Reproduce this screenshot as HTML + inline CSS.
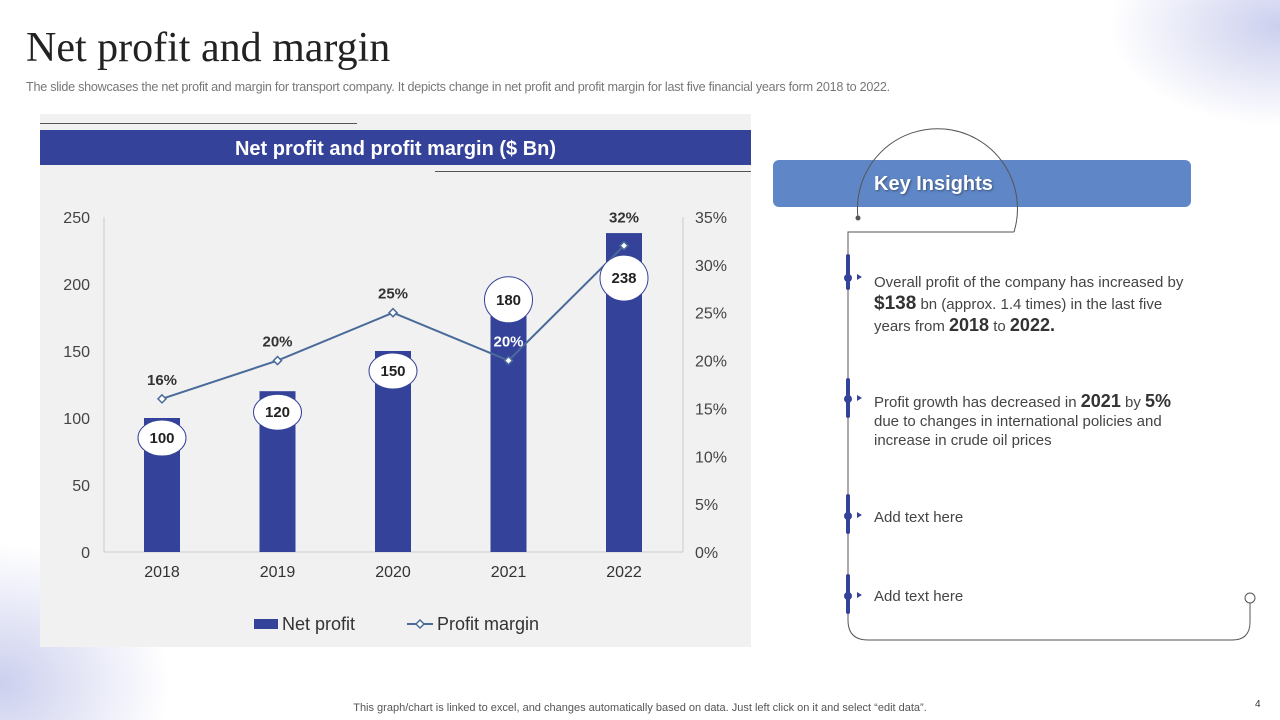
<!DOCTYPE html>
<html><head><meta charset="utf-8">
<style>
html,body{margin:0;width:1280px;height:720px;overflow:hidden}
body{background:#fff;font-family:"Liberation Sans",sans-serif;position:relative}
.abs{position:absolute}
#wrap{position:absolute;left:0;top:0;width:1280px;height:720px;overflow:hidden}
</style></head><body><div id="wrap">
<div class="abs" style="left:1090px;top:0;width:190px;height:130px;background:radial-gradient(ellipse 170px 100px at 100% 20%,rgba(120,130,210,0.38),rgba(255,255,255,0) 100%)"></div>
<div class="abs" style="left:0;top:540px;width:190px;height:180px;background:radial-gradient(ellipse 170px 140px at 0% 80%,rgba(120,130,210,0.38),rgba(255,255,255,0) 100%)"></div>
<div class="abs" style="left:26px;top:24px;font-family:'Liberation Serif',serif;font-size:42px;color:#222">Net profit and margin</div>
<div class="abs" style="left:26px;top:80px;font-size:12.6px;color:#777;letter-spacing:-0.25px;white-space:nowrap">The slide showcases the net profit and margin for transport company. It depicts change in net profit and profit margin for last five financial years form 2018 to 2022.</div>

<div class="abs" style="left:40px;top:114px;width:711px;height:533px;background:#f1f1f1"></div>
<div class="abs" style="left:40px;top:130px;width:711px;height:35px;background:#34429a;color:#fff;font-weight:bold;font-size:20px;text-align:center;line-height:38px">Net profit and profit margin ($ Bn)</div>
<div class="abs" style="left:40px;top:123px;width:317px;height:1px;background:#555"></div>
<div class="abs" style="left:435px;top:171px;width:316px;height:1px;background:#555"></div>

<svg class="abs" style="left:0;top:0" width="1280" height="720" id="chart"></svg>

<div class="abs" style="left:773px;top:160px;width:418px;height:47px;background:#5f86c6;border-radius:6px"></div>
<div class="abs" style="left:874px;top:173px;color:#fff;font-weight:bold;font-size:20px;text-shadow:1px 1px 2px rgba(0,0,0,0.4)">Key Insights</div>
<svg class="abs" style="left:0;top:0" width="1280" height="720">
<path d="M858 218 A80 80 0 1 1 1014 232" fill="none" stroke="#555" stroke-width="1"/>
<circle cx="858" cy="218" r="2.5" fill="#555"/>
<path d="M1014 232 L848 232 L848 620 Q848 640 868 640 L1232 640 Q1250 640 1250 622 L1250 603" fill="none" stroke="#555" stroke-width="1"/>
<circle cx="1250" cy="598" r="5" fill="#fff" stroke="#555"/>
<g fill="#34429a">
<rect x="846" y="254" width="4" height="36" rx="2"/><circle cx="848" cy="278" r="4"/><path d="M857 274 l5 3 l-5 3z"/>
<rect x="846" y="378" width="4" height="40" rx="2"/><circle cx="848" cy="399" r="4"/><path d="M857 395 l5 3 l-5 3z"/>
<rect x="846" y="494" width="4" height="40" rx="2"/><circle cx="848" cy="516" r="4"/><path d="M857 512 l5 3 l-5 3z"/>
<rect x="846" y="574" width="4" height="40" rx="2"/><circle cx="848" cy="596" r="4"/><path d="M857 592 l5 3 l-5 3z"/>
</g></svg>
<div class="abs" style="left:874px;top:272px;width:320px;font-size:15px;color:#444;line-height:21px">Overall profit of the company has increased by <b style="font-size:19px;color:#333">$138</b> bn (approx. 1.4 times) in the last five years from <b style="font-size:18px;color:#333">2018</b> to <b style="font-size:18px;color:#333">2022.</b></div>
<div class="abs" style="left:874px;top:392px;width:318px;font-size:15px;color:#444;line-height:19px">Profit growth has decreased in <b style="font-size:18px;color:#333">2021</b> by <b style="font-size:18px;color:#333">5%</b> due to changes in international policies and increase in crude oil prices</div>
<div class="abs" style="left:874px;top:509px;font-size:15px;color:#444">Add text here</div>
<div class="abs" style="left:874px;top:588px;font-size:15px;color:#444">Add text here</div>

<div class="abs" style="left:0;width:1280px;top:701px;height:14px;line-height:14px;text-align:center;font-size:11px;color:#555">This graph/chart is linked to excel, and changes automatically based on data. Just left click on it and select “edit data”.</div>
<div class="abs" style="left:1255px;top:699px;height:12px;line-height:12px;font-size:10px;color:#333">4</div>
</div>
<script>
const categories=["2018","2019","2020","2021","2022"];
const netProfit=[100,120,150,180,238];
const profitMargin=[16,20,25,20,32];
const leftTicks=[0,50,100,150,200,250];
const rightTicks=[0,5,10,15,20,25,30,35];
const bubbleOffsets=[20,21,20,-11,45];
const marginLabelOffsets=[14,14,14,14,23];
const NS="http://www.w3.org/2000/svg";
const svg=document.getElementById('chart');
const y0=552,yTop=217;
const yL=v=>y0-(v/250)*(y0-yTop);
const yR=v=>y0-(v/35)*(y0-yTop);
const xC=i=>162+i*115.5;
function mk(t,a){const e=document.createElementNS(NS,t);for(const k in a)e.setAttribute(k,a[k]);svg.appendChild(e);return e;}
function txt(x,y,s,a){const e=mk('text',Object.assign({x:x,y:y,'font-family':'Liberation Sans, sans-serif'},a));e.textContent=s;return e;}
let ax=mk('line',{x1:104,y1:yTop,x2:104,y2:y0,stroke:'#ccc'});

ax=mk('line',{x1:683,y1:yTop,x2:683,y2:y0,stroke:'#ccc'});

ax=mk('line',{x1:104,y1:y0,x2:683,y2:y0,stroke:'#ccc'});

leftTicks.forEach(v=>{const t=txt(90,yL(v)+6,String(v),{'font-size':16,fill:'#444','text-anchor':'end'});
});
rightTicks.forEach(v=>{const t=txt(695,yR(v)+6,v+'%',{'font-size':16,fill:'#444'});
});
categories.forEach((c,i)=>{const t=txt(xC(i),577,c,{'font-size':16,fill:'#333','text-anchor':'middle'});
});
netProfit.forEach((v,i)=>{const r=mk('rect',{x:xC(i)-18,y:yL(v),width:36,height:y0-yL(v),fill:'#34429a'});
});
const pl=mk('polyline',{points:profitMargin.map((v,i)=>xC(i)+','+yR(v)).join(' '),fill:'none',stroke:'#4a6a9a','stroke-width':2});

profitMargin.forEach((v,i)=>{const x=xC(i),y=yR(v);
const m=mk('path',{d:`M${x} ${y-4} L${x+4} ${y} L${x} ${y+4} L${x-4} ${y}Z`,fill:'#fff',stroke:'#4a6a9a','stroke-width':1.5});

const inside=i===3;
const t=txt(x,y-marginLabelOffsets[i],v+'%',{'font-size':15,'font-weight':'bold',fill:inside?'#fff':'#333','text-anchor':'middle'});
});
netProfit.forEach((v,i)=>{const x=xC(i),y=yL(v)+bubbleOffsets[i];
const e=mk('ellipse',{cx:x,cy:y,rx:24,ry:i===3||i===4?23:18,fill:'#fff',stroke:'#34429a','stroke-width':1});

const t=txt(x,y+5,String(v),{'font-size':15,'font-weight':'bold',fill:'#222','text-anchor':'middle'});
});
let lg=mk('rect',{x:254,y:619,width:24,height:10,fill:'#34429a'});

lg=txt(282,630,'Net profit',{'font-size':18,fill:'#333'});

lg=mk('line',{x1:407,y1:624,x2:433,y2:624,stroke:'#4a6a9a','stroke-width':2});

lg=mk('path',{d:'M420 620 L424 624 L420 628 L416 624Z',fill:'#fff',stroke:'#4a6a9a','stroke-width':1.5});

lg=txt(437,630,'Profit margin',{'font-size':18,fill:'#333'});

</script>
</body></html>
